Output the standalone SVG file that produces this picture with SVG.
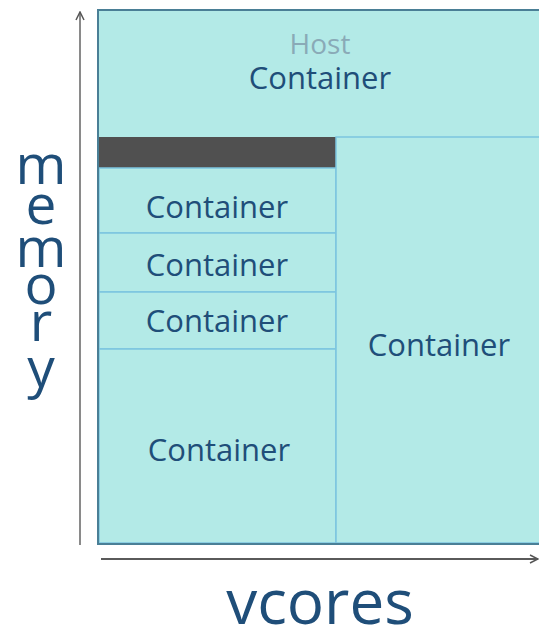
<svg xmlns="http://www.w3.org/2000/svg" width="539" height="633" viewBox="0 0 539 633">
<defs>
<style>
.box{fill:#b3eae7;stroke:#7cc5e0;stroke-width:1.5}
.lbl{font-family:"Open Sans","DejaVu Sans",sans-serif;font-size:31px;fill:#1f4e79;text-anchor:middle}
.axis{font-family:"Open Sans","DejaVu Sans",sans-serif;fill:#1f4e79;text-anchor:middle}
</style>
<marker id="ah" viewBox="0 0 10 10" refX="9" refY="5" markerWidth="10" markerHeight="10" markerUnits="userSpaceOnUse" orient="auto">
<path d="M1,1 L9,5 L1,9" fill="none" stroke="#555" stroke-width="1.5"/>
</marker>
</defs>
<rect width="539" height="633" fill="#ffffff"/>
<g id="connectors">
<line x1="80" y1="545" x2="80" y2="12" stroke="#8a8a8a" stroke-width="2" marker-end="url(#ah)"/>
<line x1="101" y1="559" x2="538" y2="559" stroke="#5a5a5a" stroke-width="2" marker-end="url(#ah)"/>
</g>
<g id="host">
<rect x="98" y="10" width="445" height="534" fill="#b3eae7" stroke="#4a7f96" stroke-width="2"/>
<text class="lbl" x="320" y="54" style="fill:#8aaab7;font-size:28px">Host</text>
<text class="lbl" x="320" y="89">Container</text>
</g>
<g id="reserved">
<rect x="98" y="137" width="238" height="31" fill="#505050"/>
</g>
<g id="c1"><rect class="box" x="99" y="168" width="237" height="65"/><text class="lbl" x="217" y="218">Container</text></g>
<g id="c2"><rect class="box" x="99" y="233" width="237" height="59"/><text class="lbl" x="217" y="276">Container</text></g>
<g id="c3"><rect class="box" x="99" y="292" width="237" height="57"/><text class="lbl" x="217" y="332">Container</text></g>
<g id="c4"><rect class="box" x="99" y="349" width="237" height="194"/><text class="lbl" x="219" y="461">Container</text></g>
<g id="c5"><rect class="box" x="336" y="137" width="206" height="406"/><text class="lbl" x="439" y="356">Container</text></g>
<line x1="98" y1="544" x2="539" y2="544" stroke="#4a7f96" stroke-width="2"/>
<line x1="98" y1="10" x2="539" y2="10" stroke="#4a7f96" stroke-width="2"/>
<line x1="98" y1="10" x2="98" y2="544" stroke="#4a7f96" stroke-width="2"/>
<g id="ylabel" class="axis" style="font-size:55px">
<text x="41" y="184">m</text>
<text x="41" y="224">e</text>
<text x="41" y="267">m</text>
<text x="41" y="304">o</text>
<text x="41" y="341">r</text>
<text x="41" y="387">y</text>
</g>
<text id="xlabel" class="axis" x="320" y="624" style="font-size:62px">vcores</text>
</svg>
